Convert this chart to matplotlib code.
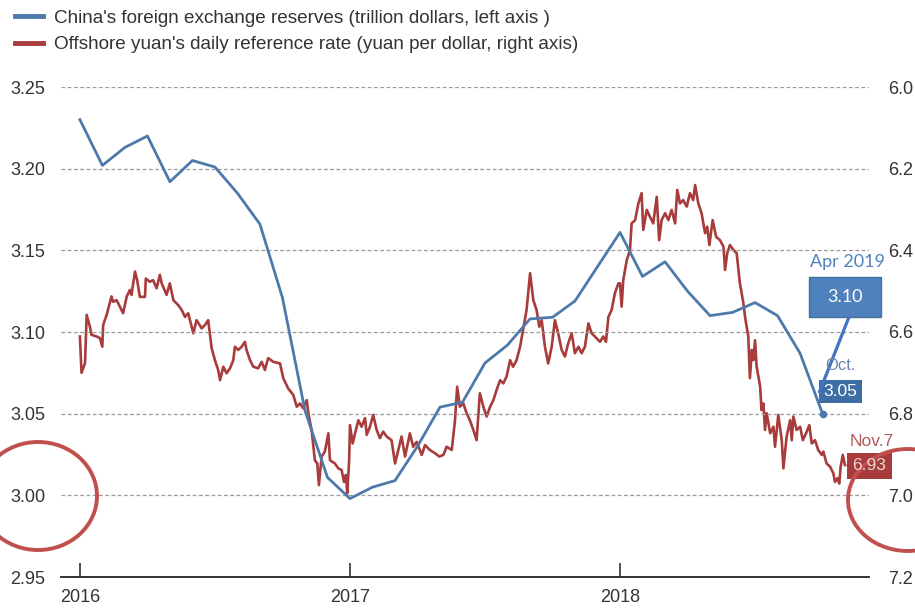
import matplotlib

matplotlib.use("Agg")

import matplotlib.pyplot as plt
from matplotlib.patches import Ellipse, Rectangle

# China's FX reserves, trillion USD, monthly Jan 2016 - Oct 2018
reserve_months = list(range(34))
reserves = [
    3.230, 3.202, 3.213, 3.220, 3.192, 3.205, 3.201, 3.185, 3.166, 3.121, 3.052, 3.011,
    2.998, 3.005, 3.009, 3.030, 3.054, 3.057, 3.081, 3.092, 3.108, 3.109, 3.119, 3.140,
    3.161, 3.134, 3.143, 3.125, 3.110, 3.112, 3.118, 3.110, 3.087, 3.050,
]

# offshore yuan (CNH) reference rate, yuan per dollar, time in fractional years
cnh_t = [
    2016.000, 2016.006, 2016.019, 2016.025, 2016.037, 2016.043, 2016.062, 2016.074,
    2016.083, 2016.086, 2016.099, 2016.117, 2016.123, 2016.136, 2016.160, 2016.173,
    2016.185, 2016.191, 2016.204, 2016.212, 2016.222, 2016.241, 2016.244, 2016.259,
    2016.271, 2016.284, 2016.296, 2016.303, 2016.321, 2016.333, 2016.346, 2016.364,
    2016.377, 2016.389, 2016.401, 2016.420, 2016.432, 2016.451, 2016.463, 2016.475,
    2016.488, 2016.500, 2016.512, 2016.519, 2016.531, 2016.543, 2016.556, 2016.568,
    2016.574, 2016.586, 2016.599, 2016.611, 2016.617, 2016.630, 2016.642, 2016.660,
    2016.673, 2016.685, 2016.697, 2016.716, 2016.741, 2016.753, 2016.771, 2016.790,
    2016.803, 2016.815, 2016.827, 2016.840, 2016.846, 2016.858, 2016.870, 2016.879,
    2016.885, 2016.895, 2016.907, 2016.920, 2016.926, 2016.944, 2016.957, 2016.969,
    2016.978, 2016.985, 2016.990, 2016.997, 2017.000, 2017.010, 2017.019, 2017.031,
    2017.043, 2017.056, 2017.062, 2017.074, 2017.086, 2017.099, 2017.111, 2017.123,
    2017.136, 2017.154, 2017.167, 2017.179, 2017.191, 2017.204, 2017.222, 2017.234,
    2017.247, 2017.266, 2017.278, 2017.296, 2017.315, 2017.331, 2017.346, 2017.358,
    2017.377, 2017.389, 2017.397, 2017.407, 2017.420, 2017.432, 2017.444, 2017.457,
    2017.469, 2017.481, 2017.494, 2017.506, 2017.519, 2017.531, 2017.543, 2017.556,
    2017.568, 2017.580, 2017.593, 2017.604, 2017.617, 2017.630, 2017.641, 2017.654,
    2017.667, 2017.679, 2017.691, 2017.701, 2017.710, 2017.722, 2017.734, 2017.747,
    2017.759, 2017.771, 2017.784, 2017.796, 2017.808, 2017.821, 2017.833, 2017.846,
    2017.858, 2017.870, 2017.883, 2017.895, 2017.907, 2017.926, 2017.938, 2017.948,
    2017.957, 2017.969, 2017.981, 2017.994, 2018.000, 2018.006, 2018.012, 2018.025,
    2018.037, 2018.043, 2018.056, 2018.068, 2018.080, 2018.086, 2018.099, 2018.111,
    2018.123, 2018.136, 2018.145, 2018.154, 2018.167, 2018.179, 2018.191, 2018.204,
    2018.212, 2018.222, 2018.234, 2018.247, 2018.259, 2018.271, 2018.278, 2018.290,
    2018.302, 2018.315, 2018.323, 2018.331, 2018.343, 2018.356, 2018.370, 2018.383,
    2018.389, 2018.397, 2018.407, 2018.420, 2018.432, 2018.444, 2018.457, 2018.463,
    2018.475, 2018.481, 2018.488, 2018.494, 2018.500, 2018.506, 2018.519, 2018.524,
    2018.531, 2018.537, 2018.543, 2018.556, 2018.568, 2018.574, 2018.586, 2018.599,
    2018.605, 2018.617, 2018.630, 2018.636, 2018.642, 2018.654, 2018.667, 2018.677,
    2018.689, 2018.701, 2018.710, 2018.722, 2018.734, 2018.747, 2018.753, 2018.765,
    2018.778, 2018.790, 2018.796, 2018.805, 2018.812, 2018.817, 2018.825, 2018.833,
]
cnh_rate = [
    6.611, 6.700, 6.676, 6.558, 6.587, 6.607, 6.611, 6.615,
    6.636, 6.583, 6.558, 6.513, 6.526, 6.522, 6.554, 6.514,
    6.497, 6.509, 6.452, 6.473, 6.514, 6.514, 6.469, 6.477,
    6.473, 6.493, 6.460, 6.481, 6.509, 6.481, 6.522, 6.534,
    6.546, 6.563, 6.554, 6.603, 6.571, 6.591, 6.583, 6.571,
    6.640, 6.669, 6.693, 6.718, 6.685, 6.701, 6.689, 6.669,
    6.636, 6.644, 6.636, 6.624, 6.644, 6.669, 6.685, 6.689,
    6.673, 6.693, 6.664, 6.673, 6.677, 6.713, 6.738, 6.754,
    6.783, 6.775, 6.787, 6.767, 6.799, 6.840, 6.914, 6.922,
    6.975, 6.905, 6.893, 6.848, 6.914, 6.922, 6.934, 6.938,
    6.967, 6.950, 6.995, 6.914, 6.828, 6.873, 6.848, 6.816,
    6.832, 6.811, 6.852, 6.832, 6.803, 6.840, 6.860, 6.844,
    6.856, 6.865, 6.922, 6.889, 6.856, 6.905, 6.848, 6.881,
    6.869, 6.901, 6.877, 6.889, 6.897, 6.905, 6.901, 6.881,
    6.889, 6.816, 6.734, 6.783, 6.775, 6.799, 6.816, 6.840,
    6.865, 6.750, 6.783, 6.807, 6.783, 6.767, 6.742, 6.718,
    6.726, 6.709, 6.669, 6.685, 6.669, 6.636, 6.595, 6.546,
    6.456, 6.522, 6.546, 6.587, 6.571, 6.636, 6.677, 6.636,
    6.571, 6.603, 6.644, 6.660, 6.628, 6.603, 6.652, 6.636,
    6.652, 6.636, 6.579, 6.603, 6.611, 6.624, 6.611, 6.624,
    6.563, 6.546, 6.505, 6.481, 6.481, 6.538, 6.473, 6.424,
    6.399, 6.334, 6.326, 6.285, 6.260, 6.350, 6.301, 6.318,
    6.334, 6.269, 6.375, 6.326, 6.309, 6.326, 6.301, 6.334,
    6.252, 6.285, 6.277, 6.293, 6.260, 6.277, 6.240, 6.285,
    6.309, 6.358, 6.342, 6.387, 6.326, 6.367, 6.375, 6.391,
    6.448, 6.407, 6.387, 6.399, 6.407, 6.481, 6.530, 6.563,
    6.611, 6.713, 6.644, 6.669, 6.620, 6.685, 6.734, 6.791,
    6.775, 6.840, 6.799, 6.848, 6.832, 6.881, 6.803, 6.865,
    6.934, 6.856, 6.816, 6.865, 6.807, 6.840, 6.832, 6.865,
    6.848, 6.828, 6.873, 6.865, 6.889, 6.901, 6.893, 6.922,
    6.930, 6.946, 6.967, 6.958, 6.971, 6.930, 6.901, 6.926,
]

left_ticks = [2.95, 3.00, 3.05, 3.10, 3.15, 3.20, 3.25]
right_ticks = [6.0, 6.2, 6.4, 6.6, 6.8, 7.0, 7.2]
year_ticks = [2016, 2017, 2018]

BLUE = "#4d7aab"
RED = "#a83b3b"
TEXT = "#333333"

plt.rcParams["font.family"] = ["Liberation Sans", "DejaVu Sans"]

fig = plt.figure(figsize=(9.15, 6.1), dpi=100)
ax = fig.add_axes([61 / 915, 33 / 610, 808 / 915, 490 / 610])
ax2 = ax.twinx()
ax.set_zorder(ax2.get_zorder() + 1)
ax.patch.set_visible(False)

reserve_t = [2016 + m / 12 for m in reserve_months]
blue_line, = ax.plot(reserve_t, reserves, color=BLUE, lw=2.0, solid_joinstyle="round")
ax.plot(reserve_t[-1], reserves[-1], "o", color=BLUE, ms=4.5)
red_line, = ax2.plot(cnh_t, cnh_rate, color=RED, lw=1.9)
# dotted leader from the last fixing to its value box
ax2.plot([cnh_t[-1], cnh_t[-1] + 0.02], [cnh_rate[-1]] * 2, color="#b06060", lw=1.2, ls=":")

ax.set_xlim(2015.930, 2018.922)
ax.set_ylim(2.95, 3.25)
ax2.set_ylim(7.2, 6.0)

ax.set_yticks(left_ticks)
ax.set_yticklabels([f"{v:.2f}" for v in left_ticks])
ax2.set_yticks(right_ticks)
ax2.set_yticklabels([f"{v:.1f}" for v in right_ticks])
ax.set_xticks(year_ticks)
ax.set_xticklabels([str(y) for y in year_ticks])

for gy in left_ticks[1:]:
    ax.axhline(gy, color="#9a9a9a", lw=0.9, ls=(0, (3, 2)), zorder=0)

for a in (ax, ax2):
    for side in ("top", "left", "right", "bottom"):
        a.spines[side].set_visible(False)
ax.spines["bottom"].set_visible(True)
ax.spines["bottom"].set_color(TEXT)
ax.spines["bottom"].set_linewidth(1.4)

ax.tick_params(axis="x", direction="in", length=10, width=1.2, color=TEXT,
               labelsize=13, labelcolor=TEXT, pad=9)
ax.tick_params(axis="y", length=0, labelsize=13, labelcolor=TEXT, pad=11.5)
ax2.tick_params(axis="y", length=0, labelsize=13, labelcolor=TEXT, pad=14)

leg = fig.legend(
    [blue_line, red_line],
    ["China's foreign exchange reserves (trillion dollars, left axis )",
     "Offshore yuan's daily reference rate (yuan per dollar, right axis)"],
    loc="upper left", bbox_to_anchor=(-0.002, 1.012), frameon=False,
    fontsize=13.6, handlelength=1.45, handletextpad=0.6, labelspacing=0.48,
)
for txt in leg.get_texts():
    txt.set_color(TEXT)
for h in leg.get_lines():
    h.set_linewidth(3.5)

# overlay in pixel units for the callouts
ov = fig.add_axes([0, 0, 1, 1], zorder=10)
ov.set_xlim(0, 915)
ov.set_ylim(610, 0)
ov.axis("off")

ov.text(840, 365, "Oct.", ha="center", va="center", fontsize=12, color="#6a86a9")
ov.add_patch(Rectangle((819, 380), 43, 23, facecolor="#3f6ea6", edgecolor="none"))
ov.text(840.5, 392, f"{reserves[-1]:.2f}", ha="center", va="center", fontsize=12.5, color="white")

ov.text(872, 441, "Nov.7", ha="center", va="center", fontsize=12.5, color="#b05b5b")
ov.add_patch(Rectangle((847, 453), 45, 26, facecolor="#a83c3c", edgecolor="none"))
ov.text(869.5, 466, f"{cnh_rate[-1]:.2f}", ha="center", va="center", fontsize=12.5, color="#ead8d8")

ov.text(847, 262, "Apr 2019", ha="center", va="center", fontsize=13,
        color="#4f81bd", family="Lato")
ov.add_patch(Rectangle((809, 277), 72, 40, facecolor="#4f81bd", edgecolor="#41719c", lw=1))
ov.text(845, 297, "3.10", ha="center", va="center", fontsize=13, color="white", family="Lato")
ov.plot([849, 819], [317, 393], color="#4472c4", lw=2.3, solid_capstyle="butt")

ov.add_patch(Ellipse((38, 496), 118, 108, fill=False, edgecolor="#c0504d", lw=2.8))
ov.add_patch(Ellipse((908, 500), 120, 102, fill=False, edgecolor="#c0504d", lw=2.8))

fig.savefig("out.png", dpi=100)
